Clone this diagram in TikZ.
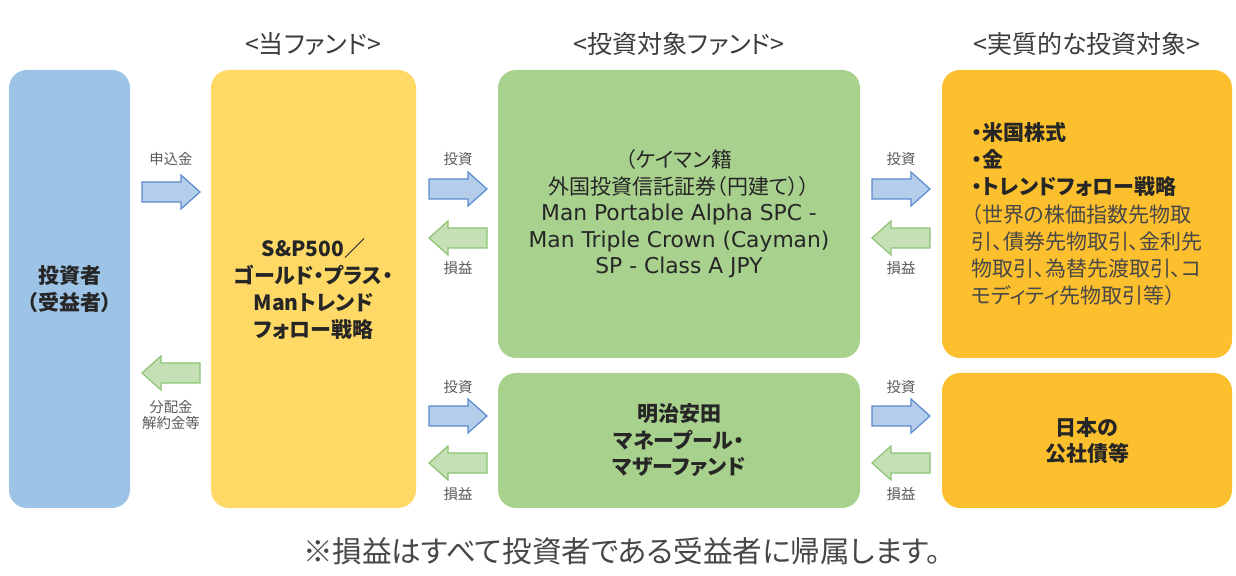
\documentclass[tikz,border=0pt]{standalone}
\usepackage{fontspec}
\setmainfont{Noto Sans CJK JP}[RawFeature=+palt]
\newfontfamily\latinwide{DejaVu Sans}
\definecolor{invblue}{HTML}{9DC3E6}
\definecolor{fundyel}{HTML}{FFD966}
\definecolor{fundgrn}{HTML}{A9D18E}
\definecolor{assetorg}{HTML}{FCBF2D}
\definecolor{txtdark}{HTML}{262626}
\definecolor{txtgray}{HTML}{5A5A5A}
\definecolor{arrbluef}{HTML}{B4CDEB}
\definecolor{arrbluel}{HTML}{5B8BD0}
\definecolor{arrgrnf}{HTML}{C5E0B4}
\definecolor{arrgrnl}{HTML}{8CC474}
\tikzset{
  box/.style={rounded corners=9pt, inner sep=0pt, text=txtdark, align=center,
    font=\fontsize{10.5}{13.25}\selectfont},
  hdr/.style={text=txtdark!90, font=\fontsize{12.5}{14}\selectfont, inner sep=0pt},
  lbl/.style={text=txtgray, font=\fontsize{7.2}{8.2}\selectfont, inner sep=0pt, align=center},
  rarr/.pic={\draw[line width=0.6pt, draw=arrbluel, fill=arrbluef, line join=miter]
      (-29,-10) -- (10,-10) -- (10,-17) -- (29,0) -- (10,17) -- (10,10) -- (-29,10) -- cycle;},
  larr/.pic={\draw[line width=0.6pt, draw=arrgrnl, fill=arrgrnf, line join=miter]
      (29,-10) -- (-10,-10) -- (-10,-17) -- (-29,0) -- (-10,17) -- (-10,10) -- (29,10) -- cycle;}
}
\begin{document}
\begin{tikzpicture}[x=0.5pt, y=-0.5pt]
\useasboundingbox (0,0) rectangle (1236,576);
% headers
\node[hdr] (h1) at (313,44) {<当ファンド>};
\node[hdr] (h2) at (679,44) {<投資対象ファンド>};
\node[hdr] (h3) at (1087,44) {<実質的な投資対象>};
% boxes
\node[box, fill=invblue, minimum width=60.5pt, minimum height=219pt, font=\bfseries\fontsize{10.5}{13.75}\selectfont] (inv) at (69.5,289) {投資者\\（受益者）};
\node[box, fill=fundyel, minimum width=102.5pt, minimum height=219pt, font=\bfseries\fontsize{10.5}{13.5}\selectfont] (fund) at (313.5,289) {S\&P500／\\ゴールド・プラス・\\Manトレンド\\フォロー戦略};
\node[box, fill=fundgrn, minimum width=181pt, minimum height=144pt] (gbig) at (679,214) {（ケイマン籍\\外国投資信託証券（円建て））\\{\latinwide\fontsize{10.9}{13.25}\selectfont Man Portable Alpha SPC -}\\{\latinwide\fontsize{10.9}{13.25}\selectfont Man Triple Crown (Cayman)}\\{\latinwide\fontsize{10.9}{13.25}\selectfont SP - Class A JPY}};
\node[box, fill=fundgrn, minimum width=181pt, minimum height=67.5pt, font=\bfseries\fontsize{10.5}{13.25}\selectfont] (gsml) at (679,440.5) {明治安田\\マネープール・\\マザーファンド};
\node[box, fill=assetorg, minimum width=145pt, minimum height=144pt, align=left, font=\fontsize{10.5}{13.6}\selectfont] (obig) at (1087,214) {\textbf{・米国株式}\\\textbf{・金}\\\textbf{・トレンドフォロー戦略}\\\textcolor{txtgray!80!black}{（世界の株価指数先物取}\\\textcolor{txtgray!80!black}{引、債券先物取引、金利先}\\\textcolor{txtgray!80!black}{物取引、為替先渡取引、コ}\\\textcolor{txtgray!80!black}{モディティ先物取引等）}};
\node[box, fill=assetorg, minimum width=145pt, minimum height=67.5pt, font=\bfseries\fontsize{10.5}{13}\selectfont] (osml) at (1087,440.5) {日本の\\公社債等};
% arrows and labels: investor <-> fund
\pic at (171,192) {rarr};
\node[lbl] (l1) at (171,159) {申込金};
\pic at (171,373) {larr};
\node[lbl] (l2) at (171,415) {分配金\\解約金等};
% fund <-> green top
\pic at (458,189) {rarr};
\node[lbl] (l3) at (458,159) {投資};
\pic at (458,238) {larr};
\node[lbl] (l4) at (458,268) {損益};
% fund <-> green bottom
\pic at (458,416) {rarr};
\node[lbl] (l5) at (458,387) {投資};
\pic at (458,463) {larr};
\node[lbl] (l6) at (458,494) {損益};
% green <-> orange top
\pic at (901,189) {rarr};
\node[lbl] (l7) at (901,159) {投資};
\pic at (901,238) {larr};
\node[lbl] (l8) at (901,268) {損益};
% green <-> orange bottom
\pic at (901,416) {rarr};
\node[lbl] (l9) at (901,387) {投資};
\pic at (901,463) {larr};
\node[lbl] (l10) at (901,494) {損益};
% footnote
\node[text=txtdark!85, font=\fontsize{14.8}{16}\selectfont, inner sep=0pt] (fn) at (622,551) {※損益はすべて投資者である受益者に帰属します。};
\end{tikzpicture}
\end{document}
